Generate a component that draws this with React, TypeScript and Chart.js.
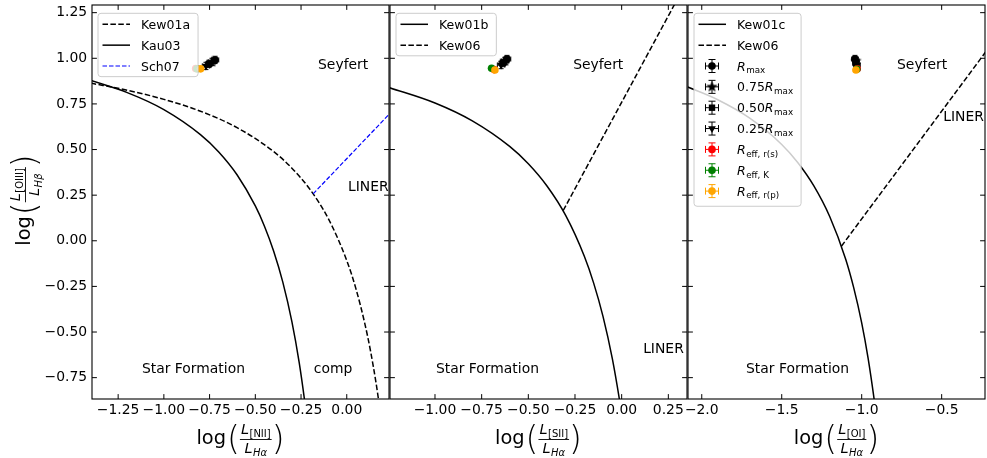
import React, { useEffect, useRef } from "react";
import { Chart, registerables } from "chart.js";

Chart.register(...registerables);

const FONT = "'DejaVu Sans', 'Liberation Sans', sans-serif";

// ---------- axes ----------
const yMin = -0.867;
const yMax = 1.292;
const yTicks = [-0.75, -0.5, -0.25, 0, 0.25, 0.5, 0.75, 1.0, 1.25];

const niiRange = [-1.393, 0.231];
const siiRange = [-1.241, 0.35];
const oiRange = [-2.086, -0.229];
const niiTicks = [-1.25, -1.0, -0.75, -0.5, -0.25, 0.0];
const siiTicks = [-1.0, -0.75, -0.5, -0.25, 0.0, 0.25];
const oiTicks = [-2.0, -1.5, -1.0, -0.5];

// ---------- demarcation lines ----------
const kew01aX = [-1.4, -1.2, -1.0, -0.8, -0.6, -0.4, -0.3, -0.2, -0.1, 0.0, 0.05, 0.1, 0.13, 0.16, 0.18];
const kew01aY = [0.864, 0.825, 0.775, 0.71, 0.62, 0.489, 0.398, 0.28, 0.12, -0.108, -0.262, -0.459, -0.604, -0.778, -0.913];
const kau03X = [-1.4, -1.2, -1.0, -0.8, -0.7, -0.6, -0.5, -0.45, -0.4, -0.35, -0.3, -0.26, -0.23, -0.22];
const kau03Y = [0.879, 0.812, 0.719, 0.582, 0.487, 0.362, 0.191, 0.08, -0.056, -0.225, -0.443, -0.668, -0.879, -0.959];
const sch07X = [-0.184, 0.24];
const sch07Y = [0.257, 0.702];

const kew01bX = [-1.25, -1.0, -0.8, -0.6, -0.5, -0.4, -0.3, -0.2, -0.15, -0.1, -0.05, -0.01, 0.0];
const kew01bY = [0.841, 0.755, 0.657, 0.517, 0.422, 0.3, 0.139, -0.085, -0.232, -0.414, -0.646, -0.882, -0.95];
const kew06sX = [-0.313, 0.3];
const kew06sY = [0.166, 1.327];

const kew01cX = [-2.1, -1.9, -1.7, -1.5, -1.4, -1.3, -1.2, -1.1, -1.05, -1.0, -0.96, -0.92, -0.91];
const kew01cY = [0.847, 0.773, 0.672, 0.528, 0.429, 0.302, 0.133, -0.101, -0.257, -0.45, -0.643, -0.882, -0.951];
const kew06oX = [-1.127, -0.2];
const kew06oY = [-0.03, 1.064];

// ---------- measured points ----------
const seriesNames = ["R_max", "0.75R_max", "0.50R_max", "0.25R_max", "R_eff, r(s)", "R_eff, K", "R_eff, r(p)"];
const seriesColors = ["#000000", "#000000", "#000000", "#000000", "#ff0000", "#008000", "#ffa500"];
const seriesStyles = ["circle", "star", "rect", "triangleDown", "circle", "circle", "circle"];

const niiX = [-0.72, -0.737, -0.753, -0.77, -0.826, -0.819, -0.799];
const niiY = [0.991, 0.98, 0.969, 0.958, 0.944, 0.942, 0.942];
const siiX = [-0.614, -0.625, -0.636, -0.646, -0.683, -0.697, -0.679];
const siiY = [0.996, 0.985, 0.974, 0.963, 0.938, 0.945, 0.936];
const oiX = [-1.042, -1.036, -1.036, -1.029, -1.028, -1.031, -1.036];
const oiY = [0.996, 0.985, 0.974, 0.963, 0.942, 0.94, 0.936];
const xErrs = [0.02, 0.02, 0.02, 0.02, 0.01, 0.01, 0.01];
const yErrs = [0.02, 0.02, 0.02, 0.02, 0.01, 0.01, 0.01];

// ---------- text ----------
const notesNII = [
  { text: "Seyfert", x: -0.157, y: 0.942 },
  { text: "LINER", x: 0.007, y: 0.273 },
  { text: "Star Formation", x: -1.12, y: -0.724 },
  { text: "comp", x: -0.18, y: -0.724 },
];
const notesSII = [
  { text: "Seyfert", x: -0.26, y: 0.942 },
  { text: "LINER", x: 0.115, y: -0.615 },
  { text: "Star Formation", x: -0.995, y: -0.724 },
];
const notesOI = [
  { text: "Seyfert", x: -0.779, y: 0.942 },
  { text: "LINER", x: -0.49, y: 0.657 },
  { text: "Star Formation", x: -1.723, y: -0.724 },
];

type Curve = { xs: number[]; ys: number[]; color: string; dash: number[]; width: number; label: string };
type Panel = {
  xRange: number[];
  xTicks: number[];
  decimals: number;
  padLeft: number;
  padRight: number;
  showY: boolean;
  curves: Curve[];
  px: number[];
  py: number[];
  legendPoints: boolean;
  notes: { text: string; x: number; y: number }[];
  numSub: string;
};

const DASH = [5.5, 2.4];

const panels: Panel[] = [
  {
    xRange: niiRange, xTicks: niiTicks, decimals: 2, padLeft: 0, padRight: 598, showY: true,
    curves: [
      { xs: kew01aX, ys: kew01aY, color: "#000", dash: DASH, width: 1.5, label: "Kew01a" },
      { xs: kau03X, ys: kau03Y, color: "#000", dash: [], width: 1.5, label: "Kau03" },
      { xs: sch07X, ys: sch07Y, color: "#0000ff", dash: [4.5, 2], width: 1.2, label: "Sch07" },
    ],
    px: niiX, py: niiY, legendPoints: false, notes: notesNII, numSub: "[NII]",
  },
  {
    xRange: siiRange, xTicks: siiTicks, decimals: 2, padLeft: 390, padRight: 300, showY: false,
    curves: [
      { xs: kew01bX, ys: kew01bY, color: "#000", dash: [], width: 1.5, label: "Kew01b" },
      { xs: kew06sX, ys: kew06sY, color: "#000", dash: DASH, width: 1.5, label: "Kew06" },
    ],
    px: siiX, py: siiY, legendPoints: false, notes: notesSII, numSub: "[SII]",
  },
  {
    xRange: oiRange, xTicks: oiTicks, decimals: 1, padLeft: 688, padRight: 2, showY: false,
    curves: [
      { xs: kew01cX, ys: kew01cY, color: "#000", dash: [], width: 1.5, label: "Kew01c" },
      { xs: kew06oX, ys: kew06oY, color: "#000", dash: DASH, width: 1.5, label: "Kew06" },
    ],
    px: oiX, py: oiY, legendPoints: true, notes: notesOI, numSub: "[OI]",
  },
];

const fmt = (v: number, d: number) => {
  const s = Math.abs(v).toFixed(d);
  return (v < -1e-9 ? "\u2212" : "") + s;
};

function makeStar(): HTMLCanvasElement {
  const c = document.createElement("canvas");
  c.width = 13;
  c.height = 13;
  const g = c.getContext("2d")!;
  g.fillStyle = "#000";
  g.beginPath();
  for (let k = 0; k < 10; k++) {
    const r = k % 2 === 0 ? 6 : 2.5;
    const a = -Math.PI / 2 + (k * Math.PI) / 5;
    const x = 6.5 + r * Math.cos(a);
    const y = 6.5 + r * Math.sin(a);
    if (k === 0) g.moveTo(x, y);
    else g.lineTo(x, y);
  }
  g.closePath();
  g.fill();
  return c;
}

function drawMarker(ctx: CanvasRenderingContext2D, style: string, x: number, y: number, color: string, star: HTMLCanvasElement) {
  ctx.fillStyle = color;
  if (style === "circle") {
    ctx.beginPath();
    ctx.arc(x, y, 3.8, 0, Math.PI * 2);
    ctx.fill();
  } else if (style === "star") {
    ctx.drawImage(star, x - 6.5, y - 6.5);
  } else if (style === "rect") {
    ctx.fillRect(x - 3.2, y - 3.2, 6.4, 6.4);
  } else {
    const r = 4.5;
    const s = Math.sin(Math.PI / 3) * r;
    ctx.beginPath();
    ctx.moveTo(x, y + r);
    ctx.lineTo(x - s, y - r / 2);
    ctx.lineTo(x + s, y - r / 2);
    ctx.closePath();
    ctx.fill();
  }
}

const LS = 12.5;
function richParts(label: string) {
  const m = label.match(/^([0-9.]*)R_(.+)$/);
  if (!m) return [{ t: label, font: `${LS}px ${FONT}`, dy: 0, gap: 0 }];
  const parts: { t: string; font: string; dy: number; gap: number }[] = [];
  if (m[1]) parts.push({ t: m[1], font: `${LS}px ${FONT}`, dy: 0, gap: 0 });
  parts.push({ t: "R", font: `italic ${LS}px ${FONT}`, dy: 0, gap: 0.5 });
  parts.push({ t: m[2], font: `${LS * 0.7}px ${FONT}`, dy: 2.8, gap: 0 });
  return parts;
}
function measureRich(ctx: CanvasRenderingContext2D, label: string) {
  let w = 0;
  richParts(label).forEach((p) => {
    ctx.font = p.font;
    w += ctx.measureText(p.t).width + p.gap;
  });
  return w;
}
function drawRich(ctx: CanvasRenderingContext2D, x: number, y: number, label: string) {
  let cx = x;
  richParts(label).forEach((p) => {
    ctx.font = p.font;
    ctx.fillText(p.t, cx, y + p.dy);
    cx += ctx.measureText(p.t).width + p.gap;
  });
}

type LegendItem = { kind: "line" | "marker"; label: string; color: string; dash?: number[]; width?: number; style?: string };

function drawLegend(ctx: CanvasRenderingContext2D, left: number, top: number, items: LegendItem[], star: HTMLCanvasElement) {
  ctx.save();
  const rowH = 20.85;
  let maxW = 0;
  items.forEach((it) => (maxW = Math.max(maxW, measureRich(ctx, it.label))));
  const hasMath = items.some((it) => it.label.includes("_"));
  const w = 43 + maxW + 8;
  const h = items.length * rowH + (hasMath ? 4.5 : 0) + 0.8;
  const rr = 3;
  ctx.beginPath();
  ctx.moveTo(left + rr, top);
  ctx.lineTo(left + w - rr, top);
  ctx.quadraticCurveTo(left + w, top, left + w, top + rr);
  ctx.lineTo(left + w, top + h - rr);
  ctx.quadraticCurveTo(left + w, top + h, left + w - rr, top + h);
  ctx.lineTo(left + rr, top + h);
  ctx.quadraticCurveTo(left, top + h, left, top + h - rr);
  ctx.lineTo(left, top + rr);
  ctx.quadraticCurveTo(left, top, left + rr, top);
  ctx.closePath();
  ctx.fillStyle = "rgba(255,255,255,0.8)";
  ctx.fill();
  ctx.strokeStyle = "#cccccc";
  ctx.lineWidth = 1;
  ctx.stroke();

  items.forEach((it, i) => {
    const cy = top + 11 + i * rowH;
    if (it.kind === "line") {
      ctx.strokeStyle = it.color;
      ctx.lineWidth = it.width || 1.5;
      ctx.setLineDash(it.dash || []);
      ctx.beginPath();
      ctx.moveTo(left + 4.5, cy);
      ctx.lineTo(left + 32, cy);
      ctx.stroke();
      ctx.setLineDash([]);
    } else {
      const mx = left + 18;
      const e = 6.5;
      const c = 3.5;
      ctx.strokeStyle = it.color;
      ctx.lineWidth = 1;
      ctx.beginPath();
      ctx.moveTo(mx - e, cy);
      ctx.lineTo(mx + e, cy);
      ctx.moveTo(mx - e, cy - c);
      ctx.lineTo(mx - e, cy + c);
      ctx.moveTo(mx + e, cy - c);
      ctx.lineTo(mx + e, cy + c);
      ctx.moveTo(mx, cy - e);
      ctx.lineTo(mx, cy + e);
      ctx.moveTo(mx - c, cy - e);
      ctx.lineTo(mx + c, cy - e);
      ctx.moveTo(mx - c, cy + e);
      ctx.lineTo(mx + c, cy + e);
      ctx.stroke();
      drawMarker(ctx, it.style || "circle", mx, cy, it.color, star);
    }
    ctx.fillStyle = "#000";
    ctx.textAlign = "left";
    ctx.textBaseline = "alphabetic";
    drawRich(ctx, left + 43, cy + 4.5, it.label);
  });
  ctx.restore();
}

function drawMathLabel(ctx: CanvasRenderingContext2D, cx: number, by: number, numSub: string, denSub: string) {
  const F = 19.4;
  const LF = 14.5;
  const SF = 10;
  const PF = 33;
  ctx.textAlign = "left";
  ctx.textBaseline = "alphabetic";
  ctx.fillStyle = "#000";
  ctx.font = `${F}px ${FONT}`;
  const wLog = ctx.measureText("log").width;
  ctx.font = `200 ${PF}px ${FONT}`;
  const wOpen = ctx.measureText("(").width;
  const wClose = ctx.measureText(")").width;
  ctx.font = `italic ${LF}px ${FONT}`;
  const wL = ctx.measureText("L").width;
  ctx.font = `${SF}px ${FONT}`;
  const wNum = ctx.measureText(numSub).width;
  ctx.font = `italic ${SF}px ${FONT}`;
  const wDen = ctx.measureText(denSub).width;
  const numW = wL + 0.5 + wNum;
  const denW = wL + 0.5 + wDen;
  const fracW = Math.max(numW, denW) + 2;
  const W = wLog + 1 + wOpen + fracW + wClose;
  let x = cx - W / 2;
  ctx.font = `${F}px ${FONT}`;
  ctx.fillText("log", x, by);
  x += wLog + 1;
  ctx.font = `200 ${PF}px ${FONT}`;
  ctx.fillText("(", x, by + 5.9);
  x += wOpen;
  const barY = by - 4.5;
  ctx.strokeStyle = "#000";
  ctx.lineWidth = 0.9;
  ctx.beginPath();
  ctx.moveTo(x, barY);
  ctx.lineTo(x + fracW, barY);
  ctx.stroke();
  const nx = x + (fracW - numW) / 2;
  ctx.font = `italic ${LF}px ${FONT}`;
  ctx.fillText("L", nx, by - 10.5);
  ctx.font = `${SF}px ${FONT}`;
  ctx.fillText(numSub, nx + wL + 0.5, by - 7.5);
  const dx = x + (fracW - denW) / 2;
  ctx.font = `italic ${LF}px ${FONT}`;
  ctx.fillText("L", dx, by + 9);
  ctx.font = `italic ${SF}px ${FONT}`;
  ctx.fillText(denSub, dx + wL + 0.5, by + 11.5);
  x += fracW;
  ctx.font = `200 ${PF}px ${FONT}`;
  ctx.fillText(")", x, by + 5.9);
}

function buildChart(canvas: HTMLCanvasElement, p: Panel, idx: number, star: HTMLCanvasElement): Chart {
  const datasets: any[] = [];
  p.curves.forEach((c) => {
    datasets.push({
      type: "line",
      data: c.xs.map((x, i) => ({ x, y: c.ys[i] })),
      borderColor: c.color,
      borderWidth: c.width,
      borderDash: c.dash,
      pointRadius: 0,
      cubicInterpolationMode: "monotone",
      fill: false,
    });
  });
  seriesNames.forEach((name, i) => {
    const st = seriesStyles[i];
    datasets.push({
      type: "scatter",
      label: name,
      data: [{ x: p.px[i], y: p.py[i] }],
      pointStyle: st === "star" ? star : st === "triangleDown" ? "triangle" : st,
      pointRotation: st === "triangleDown" ? 180 : 0,
      pointRadius: st === "circle" ? 3.8 : 4.5,
      pointBackgroundColor: seriesColors[i],
      pointBorderColor: seriesColors[i],
      pointBorderWidth: 0,
      xErr: [xErrs[i]],
      yErr: [yErrs[i]],
      errColor: seriesColors[i],
    });
  });
  // later series drawn on top (Chart.js draws lower `order` last)
  datasets.forEach((d, k) => {
    d.order = 100 - k;
  });

  const legendItems: LegendItem[] = p.curves.map((c) => ({ kind: "line", label: c.label, color: c.color, dash: c.dash, width: c.width }));
  if (p.legendPoints) {
    seriesNames.forEach((n, i) => legendItems.push({ kind: "marker", label: n, color: seriesColors[i], style: seriesStyles[i] }));
  }

  const errPlugin = {
    id: "errbars" + idx,
    beforeDatasetDraw(chart: any, args: any) {
      const ds = chart.data.datasets[args.index];
      if (!ds.xErr) return;
      const xs = chart.scales.x;
      const ys = chart.scales.y;
      const ctx = chart.ctx as CanvasRenderingContext2D;
      ctx.save();
      ctx.strokeStyle = ds.errColor;
      ctx.lineWidth = 1;
      ds.data.forEach((pt: any, i: number) => {
        const px = xs.getPixelForValue(pt.x);
        const py = ys.getPixelForValue(pt.y);
        const x0 = xs.getPixelForValue(pt.x - ds.xErr[i]);
        const x1 = xs.getPixelForValue(pt.x + ds.xErr[i]);
        const y0 = ys.getPixelForValue(pt.y - ds.yErr[i]);
        const y1 = ys.getPixelForValue(pt.y + ds.yErr[i]);
        const c = 2.5;
        ctx.beginPath();
        ctx.moveTo(x0, py);
        ctx.lineTo(x1, py);
        ctx.moveTo(x0, py - c);
        ctx.lineTo(x0, py + c);
        ctx.moveTo(x1, py - c);
        ctx.lineTo(x1, py + c);
        ctx.moveTo(px, y0);
        ctx.lineTo(px, y1);
        ctx.moveTo(px - c, y0);
        ctx.lineTo(px + c, y0);
        ctx.moveTo(px - c, y1);
        ctx.lineTo(px + c, y1);
        ctx.stroke();
      });
      ctx.restore();
    },
  };

  const decor = {
    id: "decor" + idx,
    afterDraw(chart: any) {
      const ctx = chart.ctx as CanvasRenderingContext2D;
      const a = chart.chartArea;
      const xs = chart.scales.x;
      const ys = chart.scales.y;
      ctx.save();
      ctx.fillStyle = "#000";
      ctx.font = `13.9px ${FONT}`;
      ctx.textAlign = "left";
      ctx.textBaseline = "alphabetic";
      p.notes.forEach((n) => ctx.fillText(n.text, xs.getPixelForValue(n.x), ys.getPixelForValue(n.y)));
      ctx.strokeStyle = "#000";
      ctx.lineWidth = 1.1;
      ctx.strokeRect(a.left, a.top, a.right - a.left, a.bottom - a.top);
      const tl = 4.9;
      ctx.lineWidth = 1;
      ctx.beginPath();
      p.xTicks.forEach((v) => {
        const x = xs.getPixelForValue(v);
        ctx.moveTo(x, a.bottom);
        ctx.lineTo(x, a.bottom - tl);
        ctx.moveTo(x, a.top);
        ctx.lineTo(x, a.top + tl);
      });
      yTicks.forEach((v) => {
        const y = ys.getPixelForValue(v);
        ctx.moveTo(a.left, y);
        ctx.lineTo(a.left + tl, y);
        ctx.moveTo(a.right, y);
        ctx.lineTo(a.right - tl, y);
      });
      ctx.stroke();
      drawMathLabel(ctx, (a.left + a.right) / 2, 444, p.numSub, "H\u03b1");
      if (p.showY) {
        ctx.translate(30, 200);
        ctx.rotate(-Math.PI / 2);
        drawMathLabel(ctx, 0, 0, "[OIII]", "H\u03b2");
      }
      ctx.restore();
      drawLegend(ctx, a.left + 6, 13.3, legendItems, star);
    },
  };

  return new Chart(canvas, {
    type: "scatter",
    data: { datasets },
    options: {
      animation: false,
      responsive: false,
      maintainAspectRatio: false,
      events: [],
      layout: { padding: { left: p.padLeft, right: p.padRight, top: 5, bottom: 0 }, autoPadding: false },
      plugins: { legend: { display: false }, tooltip: { enabled: false } },
      scales: {
        x: {
          type: "linear",
          min: p.xRange[0],
          max: p.xRange[1],
          afterBuildTicks: (s: any) => {
            s.ticks = p.xTicks.map((v) => ({ value: v }));
          },
          afterFit: (s: any) => {
            s.height = 59;
          },
          grid: { display: false, drawTicks: false },
          border: { display: false },
          ticks: {
            autoSkip: false,
            maxRotation: 0,
            minRotation: 0,
            padding: 3,
            color: "#000",
            font: { family: FONT, size: 13.9 },
            callback: (v: any) => fmt(Number(v), p.decimals),
          },
        },
        y: {
          type: "linear",
          min: yMin,
          max: yMax,
          display: p.showY,
          afterBuildTicks: (s: any) => {
            s.ticks = yTicks.map((v) => ({ value: v }));
          },
          afterFit: (s: any) => {
            s.width = p.showY ? 92 : 0;
            s.paddingTop = 0;
            s.paddingBottom = 0;
          },
          grid: { display: false, drawTicks: false },
          border: { display: false },
          ticks: {
            autoSkip: false,
            padding: 4.9,
            color: "#000",
            font: { family: FONT, size: 13.9, lineHeight: 0.01 },
            callback: (v: any) => fmt(Number(v), 2),
          },
        },
      },
    } as any,
    plugins: [errPlugin, decor],
  });
}

export default function App() {
  const r1 = useRef<HTMLCanvasElement>(null);
  const r2 = useRef<HTMLCanvasElement>(null);
  const r3 = useRef<HTMLCanvasElement>(null);
  useEffect(() => {
    const star = makeStar();
    const refs = [r1, r2, r3];
    const charts = refs.map((r, i) => buildChart(r.current!, panels[i], i, star));
    return () => charts.forEach((c) => c.destroy());
  }, []);
  const cs: React.CSSProperties = { position: "absolute", left: 0, top: 0, width: 987, height: 458 };
  return (
    <div style={{ position: "fixed", left: 0, top: 0, width: 987, height: 458, background: "#fff" }}>
      <canvas ref={r1} width={987} height={458} style={cs} />
      <canvas ref={r2} width={987} height={458} style={cs} />
      <canvas ref={r3} width={987} height={458} style={cs} />
    </div>
  );
}
